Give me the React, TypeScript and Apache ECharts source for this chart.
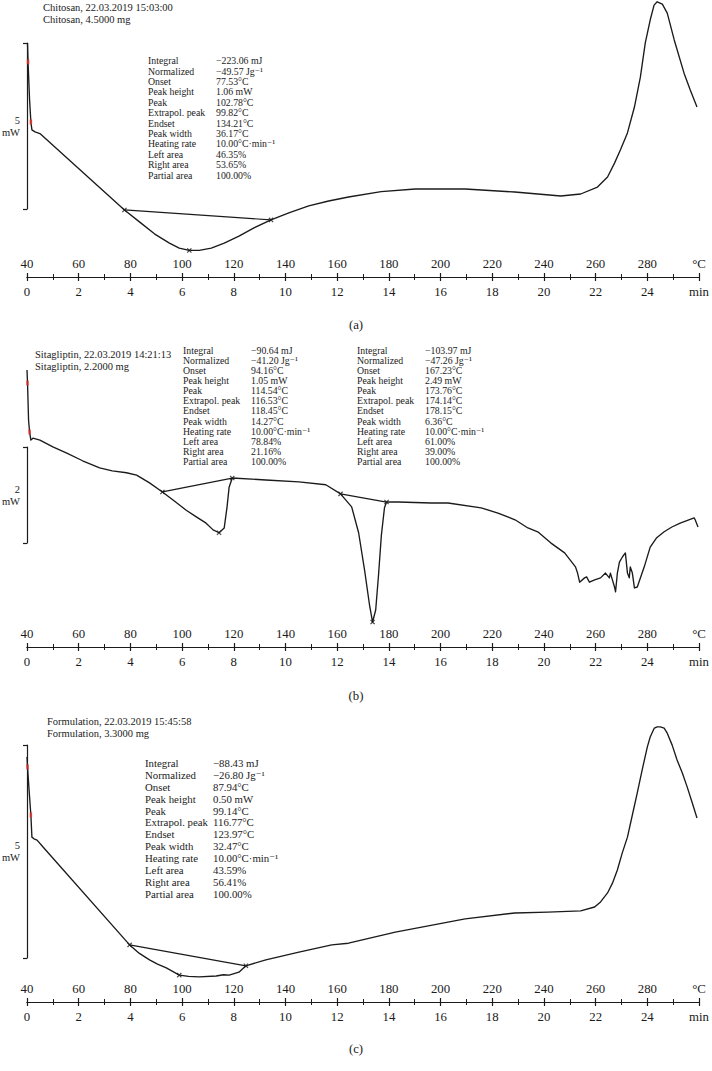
import React, { useEffect, useRef } from "react";
import * as echarts from "echarts";

const FONT = '"Liberation Serif", "DejaVu Serif", "Times New Roman", serif';
const INK = "#1b1b1b";
const RED = "#e0302a";

// ---------- data: [temperature °C, heat flow mW (relative)] ----------
const chitosanCurve: [number, number][] = [
  [40.2, 7.05], [40.4, 6.48], [41.0, 5.33], [41.5, 4.67], [41.9, 4.43], [43.1, 4.37], [45.0, 4.32],
  [77.7, 2.02], [83.5, 1.66], [89.3, 1.30], [95.1, 1.02], [98.9, 0.87], [102.8, 0.80], [106.6, 0.80],
  [111.3, 0.87], [116.3, 1.02], [122.0, 1.23], [127.8, 1.48], [134.4, 1.72], [141.3, 1.93], [149.0, 2.14],
  [156.7, 2.29], [164.4, 2.41], [177.0, 2.57], [190.2, 2.65], [209.5, 2.65], [228.7, 2.56], [246.5, 2.44],
  [254.2, 2.50], [260.7, 2.71], [264.6, 3.01], [267.3, 3.43], [269.6, 3.83], [272.3, 4.34], [275.0, 5.12],
  [277.3, 6.02], [279.2, 7.05], [281.1, 7.74], [282.6, 8.19], [283.8, 8.29], [285.8, 8.22], [287.7, 7.95],
  [290.4, 7.14], [294.2, 6.14], [296.6, 5.63], [299.2, 5.12],
];
const chitosanBaseline: [number, number][] = [[77.7, 2.02], [134.4, 1.72]];
const chitosanMarks: [number, number][] = [[77.7, 2.02], [102.8, 0.80], [134.4, 1.72]];
const chitosanRed: [number, number][] = [[40.4, 6.48], [41.5, 4.67]];

const sitagliptinCurve: [number, number][] = [
  [40.0, 5.77], [40.2, 5.50], [40.6, 4.73], [41.0, 4.48], [41.5, 4.31], [42.3, 4.35], [45.0, 4.31],
  [50.0, 4.17], [55.4, 4.04], [61.5, 3.88], [68.1, 3.73], [73.0, 3.67], [78.5, 3.63], [82.4, 3.58],
  [87.4, 3.42], [92.4, 3.23], [97.0, 3.04], [101.6, 2.85], [105.5, 2.71], [109.3, 2.58], [112.0, 2.44],
  [114.3, 2.38], [116.3, 2.48], [117.4, 2.92], [118.2, 3.33], [119.4, 3.52],
  [132.4, 3.48], [145.2, 3.44], [155.6, 3.38], [161.3, 3.19], [165.6, 2.92], [168.3, 2.38], [170.6, 1.60],
  [172.5, 0.88], [173.7, 0.52], [174.9, 0.77], [176.0, 1.50], [177.1, 2.33], [178.3, 2.90], [179.1, 3.02],
  [183.7, 3.02], [196.4, 3.00], [202.9, 3.00], [215.7, 2.90], [222.2, 2.79], [228.8, 2.65], [233.8, 2.48],
  [237.6, 2.40], [242.6, 2.17], [248.0, 1.96], [252.2, 1.67], [253.0, 1.54], [253.8, 1.35], [255.7, 1.44],
  [256.5, 1.46], [257.6, 1.35], [259.6, 1.40], [261.9, 1.44], [263.8, 1.54], [265.3, 1.44], [265.7, 1.54],
  [267.3, 1.25], [267.7, 1.15], [268.4, 1.54], [269.2, 1.77], [270.4, 1.88], [271.5, 1.96], [272.3, 1.54],
  [273.0, 1.44], [273.4, 1.67], [274.2, 1.54], [275.0, 1.23], [276.1, 1.25], [278.8, 1.67], [281.1, 2.08],
  [283.5, 2.27], [286.5, 2.40], [289.5, 2.50], [292.7, 2.58], [298.1, 2.69], [298.5, 2.65], [299.6, 2.50],
];
const sitagliptinBaseline1: [number, number][] = [[92.4, 3.23], [119.4, 3.52]];
const sitagliptinBaseline2: [number, number][] = [[161.3, 3.19], [179.1, 3.02]];
const sitagliptinMarks: [number, number][] = [
  [92.4, 3.23], [114.3, 2.38], [119.4, 3.52], [161.3, 3.19], [173.7, 0.52], [179.1, 3.02],
];
const sitagliptinRed: [number, number][] = [[40.2, 5.50], [41.0, 4.48]];

const formulationCurve: [number, number][] = [
  [40.0, 5.75], [40.2, 5.52], [40.8, 4.98], [41.5, 4.39], [41.9, 3.87], [42.7, 3.83], [43.9, 3.80],
  [46.2, 3.64], [79.7, 1.34], [83.5, 1.14], [87.4, 0.99], [90.5, 0.89], [93.9, 0.80], [98.9, 0.63],
  [102.5, 0.60], [106.6, 0.59], [113.2, 0.61], [116.0, 0.64], [118.2, 0.63], [122.0, 0.70], [124.7, 0.85],
  [132.4, 0.99], [145.2, 1.17], [157.9, 1.34], [164.4, 1.38], [182.5, 1.64], [209.5, 1.95], [228.7, 2.09],
  [241.5, 2.11], [254.2, 2.14], [259.6, 2.23], [261.9, 2.35], [264.6, 2.56], [266.5, 2.79], [268.4, 3.10],
  [270.3, 3.50], [272.3, 3.87], [274.2, 4.39], [276.1, 4.91], [278.0, 5.45], [280.0, 5.99], [281.1, 6.22],
  [282.7, 6.43], [283.8, 6.46], [285.0, 6.46], [286.5, 6.43], [287.7, 6.31], [289.6, 6.03], [291.5, 5.68],
  [293.5, 5.38], [295.4, 5.05], [297.3, 4.69], [299.2, 4.32],
];
const formulationBaseline: [number, number][] = [[79.7, 1.34], [124.7, 0.85]];
const formulationMarks: [number, number][] = [[79.7, 1.34], [98.9, 0.63], [124.7, 0.85]];
const formulationRed: [number, number][] = [[40.2, 5.52], [41.5, 4.39]];

// ---------- texts ----------
const resultLabels = [
  "Integral", "Normalized", "Onset", "Peak height", "Peak", "Extrapol. peak",
  "Endset", "Peak width", "Heating rate", "Left area", "Right area", "Partial area",
];
const chitosanValues = [
  "\u2212223.06 mJ", "\u221249.57 Jg\u207B\u00B9", "77.53\u00B0C", "1.06 mW", "102.78\u00B0C", "99.82\u00B0C",
  "134.21\u00B0C", "36.17\u00B0C", "10.00\u00B0C\u00B7min\u207B\u00B9", "46.35%", "53.65%", "100.00%",
];
const sitagliptinValues1 = [
  "\u221290.64 mJ", "\u221241.20 Jg\u207B\u00B9", "94.16\u00B0C", "1.05 mW", "114.54\u00B0C", "116.53\u00B0C",
  "118.45\u00B0C", "14.27\u00B0C", "10.00\u00B0C\u00B7min\u207B\u00B9", "78.84%", "21.16%", "100.00%",
];
const sitagliptinValues2 = [
  "\u2212103.97 mJ", "\u221247.26 Jg\u207B\u00B9", "167.23\u00B0C", "2.49 mW", "173.76\u00B0C", "174.14\u00B0C",
  "178.15\u00B0C", "6.36\u00B0C", "10.00\u00B0C\u00B7min\u207B\u00B9", "61.00%", "39.00%", "100.00%",
];
const formulationValues = [
  "\u221288.43 mJ", "\u221226.80 Jg\u207B\u00B9", "87.94\u00B0C", "0.50 mW", "99.14\u00B0C", "116.77\u00B0C",
  "123.97\u00B0C", "32.47\u00B0C", "10.00\u00B0C\u00B7min\u207B\u00B9", "43.59%", "56.41%", "100.00%",
];
const headers = [
  ["Chitosan, 22.03.2019 15:03:00", "Chitosan, 4.5000 mg"],
  ["Sitagliptin, 22.03.2019 14:21:13", "Sitagliptin, 2.2000 mg"],
  ["Formulation, 22.03.2019 15:45:58", "Formulation, 3.3000 mg"],
];
const captions = ["(a)", "(b)", "(c)"];
const scaleBarValues = [5, 2, 5];

// ---------- layout ----------
const W = 712;
const H = 1071;
const X_LEFT = 27;
const X_WIDTH = 675; // 40..300 °C
const panels = [
  { top: 0, axisY: 277, pxPerMW: 33.2, barTop: 43, headerX: 43, headerY: 2, captionY: 325 },
  { top: 340, axisY: 647, pxPerMW: 48, barTop: 447, headerX: 35, headerY: 349, captionY: 696 },
  { top: 720, axisY: 1002, pxPerMW: 42.6, barTop: 745, headerX: 47, headerY: 716, captionY: 1049 },
];
const blocks = [
  { x: 148, y: 55.5, values: chitosanValues, size: 9.8, lh: 10.4, gap: 68 },
  { x: 183, y: 345, values: sitagliptinValues1, size: 9.8, lh: 10.15, gap: 68 },
  { x: 357, y: 345, values: sitagliptinValues2, size: 9.8, lh: 10.15, gap: 68 },
  { x: 145, y: 757, values: formulationValues, size: 10.8, lh: 11.9, gap: 68 },
];

const crossSymbol = "path://M4 0H6V4H10V6H6V10H4V6H0V4H4Z";

function buildOption() {
  const grid: any[] = [];
  const xAxis: any[] = [];
  const yAxis: any[] = [];
  const series: any[] = [];
  const graphic: any[] = [];

  const curves = [chitosanCurve, sitagliptinCurve, formulationCurve];
  const baselines = [[chitosanBaseline], [sitagliptinBaseline1, sitagliptinBaseline2], [formulationBaseline]];
  const marks = [chitosanMarks, sitagliptinMarks, formulationMarks];
  const reds = [chitosanRed, sitagliptinRed, formulationRed];

  panels.forEach((p, i) => {
    const height = p.axisY - p.top;
    grid.push({ left: X_LEFT, top: p.top, width: X_WIDTH, height });
    yAxis.push({ gridIndex: i, type: "value", min: 0, max: height / p.pxPerMW, show: false });
  });
  // temperature axes
  panels.forEach((p, i) => {
    xAxis.push({
      gridIndex: i,
      type: "value",
      position: "bottom",
      min: 40,
      max: 300,
      interval: 20,
      axisLine: { show: true, onZero: false, lineStyle: { color: INK, width: 1.2 } },
      axisTick: { show: true, inside: true, length: 4, lineStyle: { color: INK, width: 1.2 } },
      minorTick: { show: true, splitNumber: 2, length: 3, lineStyle: { color: INK, width: 1 } },
      splitLine: { show: false },
      axisLabel: {
        show: true,
        inside: true,
        margin: 7,
        showMinLabel: true,
        showMaxLabel: true,
        color: INK,
        fontFamily: FONT,
        fontSize: 12.8,
        formatter: (v: number) => (v === 300 ? "\u00B0C" : String(v)),
      },
    });
  });
  // time axes
  panels.forEach((p, i) => {
    xAxis.push({
      gridIndex: i,
      type: "value",
      position: "bottom",
      min: 0,
      max: 26,
      interval: 2,
      axisLine: { show: true, onZero: false, lineStyle: { color: INK, width: 1.2 } },
      axisTick: { show: true, inside: false, length: 4, lineStyle: { color: INK, width: 1.2 } },
      minorTick: { show: true, splitNumber: 2, length: 3, lineStyle: { color: INK, width: 1 } },
      splitLine: { show: false },
      axisLabel: {
        show: true,
        margin: 8,
        showMinLabel: true,
        showMaxLabel: true,
        color: INK,
        fontFamily: FONT,
        fontSize: 12.8,
        formatter: (v: number) => (v === 26 ? "min" : String(v)),
      },
    });
  });
  // scale bars
  panels.forEach((p, i) => {
    const val = scaleBarValues[i];
    const gi = 3 + i;
    grid.push({ left: 26, top: p.barTop, width: 1, height: val * p.pxPerMW });
    xAxis.push({ gridIndex: gi, type: "value", min: 0, max: 1, show: false });
    yAxis.push({
      gridIndex: gi,
      type: "value",
      min: 0,
      max: val,
      interval: val,
      position: "left",
      axisLine: { show: true, lineStyle: { color: INK, width: 1.2 } },
      axisTick: { show: true, length: 4, lineStyle: { color: INK, width: 1.2 } },
      axisLabel: { show: false },
      splitLine: { show: false },
      name: `${val}\nmW`,
      nameLocation: "middle",
      nameRotate: 0,
      nameGap: 7,
      nameTextStyle: {
        color: INK,
        fontFamily: FONT,
        fontSize: 10.5,
        lineHeight: 12,
        align: "right",
        padding: [12, 0, 0, 0],
      },
    });
  });

  panels.forEach((p, i) => {
    series.push({
      type: "line",
      xAxisIndex: i,
      yAxisIndex: i,
      data: curves[i],
      showSymbol: false,
      smooth: false,
      lineStyle: { color: INK, width: 1.35, join: "round" },
      silent: true,
      z: 3,
    });
    baselines[i].forEach((b) => {
      series.push({
        type: "line",
        xAxisIndex: i,
        yAxisIndex: i,
        data: b,
        showSymbol: false,
        lineStyle: { color: INK, width: 1.2 },
        silent: true,
        z: 3,
      });
    });
    series.push({
      type: "scatter",
      xAxisIndex: i,
      yAxisIndex: i,
      data: marks[i],
      symbol: crossSymbol,
      symbolSize: 6,
      symbolRotate: 45,
      itemStyle: { color: INK },
      silent: true,
      z: 4,
    });
    series.push({
      type: "scatter",
      xAxisIndex: i,
      yAxisIndex: i,
      data: reds[i],
      symbol: "rect",
      symbolSize: [2.5, 5],
      itemStyle: { color: RED },
      silent: true,
      z: 5,
    });

    graphic.push({
      type: "text",
      x: p.headerX,
      y: p.headerY,
      style: {
        text: headers[i].join("\n"),
        fill: INK,
        fontFamily: FONT,
        fontSize: 10.5,
        lineHeight: 11.5,
        align: "left",
        verticalAlign: "top",
      },
    });
    graphic.push({
      type: "text",
      x: W / 2,
      y: p.captionY,
      style: {
        text: captions[i],
        fill: INK,
        fontFamily: FONT,
        fontSize: 12.8,
        align: "center",
        verticalAlign: "middle",
      },
    });
  });

  blocks.forEach((b) => {
    graphic.push({
      type: "text",
      x: b.x,
      y: b.y,
      style: {
        text: resultLabels.join("\n"),
        fill: INK,
        fontFamily: FONT,
        fontSize: b.size,
        lineHeight: b.lh,
        align: "left",
        verticalAlign: "top",
      },
    });
    graphic.push({
      type: "text",
      x: b.x + b.gap,
      y: b.y,
      style: {
        text: b.values.join("\n"),
        fill: INK,
        fontFamily: FONT,
        fontSize: b.size,
        lineHeight: b.lh,
        align: "left",
        verticalAlign: "top",
      },
    });
  });

  return {
    animation: false,
    backgroundColor: "#ffffff",
    grid,
    xAxis,
    yAxis,
    series,
    graphic: { elements: graphic },
  };
}

export default function App() {
  const ref = useRef<HTMLDivElement>(null);
  useEffect(() => {
    if (!ref.current) return;
    const chart = echarts.init(ref.current, undefined, { renderer: "svg" });
    chart.setOption(buildOption() as any);
    return () => chart.dispose();
  }, []);
  return (
    <div
      ref={ref}
      style={{ position: "absolute", left: 0, top: 0, width: W, height: H, background: "#fff" }}
    />
  );
}
